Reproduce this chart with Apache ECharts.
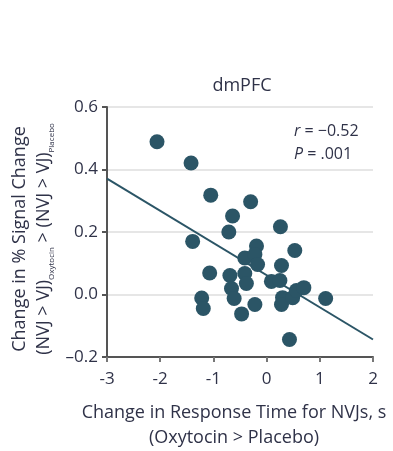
<!DOCTYPE html>
<html>
<head>
<meta charset="utf-8">
<script src="https://cdn.jsdelivr.net/npm/echarts@6/dist/echarts.min.js"></script>
<style>
  html, body { margin: 0; padding: 0; background: #fff; }
  #chart { width: 393px; height: 451px; }
</style>
</head>
<body>
<div id="chart"></div>
<script>
// response time change (s) and signal change
var rtChange = [-2.06, -1.42, -1.05, -0.30, -0.64, -0.71, -1.39, 0.26, -0.19, 0.53,
                -0.41, -0.22, -0.17, 0.28, -1.07, -0.69, -0.41, -0.38, 0.09, 0.25,
                -0.66, -0.61, -1.22, -1.19, -0.22, -0.47, 0.30, 0.28, 0.49, 0.56,
                0.70, 1.11, 0.43];
var signalChange = [0.489, 0.421, 0.318, 0.297, 0.251, 0.200, 0.170, 0.217, 0.155, 0.141,
                    0.117, 0.128, 0.096, 0.093, 0.069, 0.061, 0.067, 0.035, 0.042, 0.045,
                    0.019, -0.013, -0.011, -0.045, -0.032, -0.062, -0.010, -0.032, -0.010, 0.013,
                    0.022, -0.013, -0.144];
// fit line end points
var fitX = [-3, 2];
var fitY = [0.371, -0.144];
var yTicks = [-0.2, 0, 0.2, 0.4, 0.6];
var xTicks = [-3, -2, -1, 0, 1, 2];

var FONT = "'Open Sans', sans-serif";
var ink = '#2f3248';
var teal = '#2b5566';

var pts = rtChange.map(function (x, i) { return [x, signalChange[i]]; });
var fit = fitX.map(function (x, i) { return [x, fitY[i]]; });

var chart = echarts.init(document.getElementById('chart'));
chart.setOption({
  animation: false,
  title: {
    text: 'dmPFC',
    left: 237, top: 72, textAlign: 'center',
    textStyle: { fontFamily: FONT, fontSize: 18, fontWeight: 'normal', color: ink }
  },
  grid: { left: 107, right: 20, top: 107, bottom: 94, outerBoundsMode: 'none', containLabel: false },
  xAxis: {
    type: 'value', min: -3, max: 2, interval: 1,
    name: 'Change in Response Time for NVJs, s\n(Oxytocin > Placebo)',
    nameLocation: 'middle', nameGap: 43, nameMoveOverlap: false,
    nameTextStyle: { fontFamily: FONT, fontSize: 18, color: ink, lineHeight: 25, padding: [0, 12, 0, 0] },
    axisLine: { onZero: false, lineStyle: { color: '#555', width: 2 } },
    axisTick: { inside: false, length: 5, lineStyle: { color: '#777', width: 2 } },
    axisLabel: {
      fontFamily: FONT, fontSize: 17, color: ink, margin: 14,
      formatter: function (v) { return xTicks.indexOf(v) >= 0 ? String(v) : ''; }
    },
    splitLine: { show: false }
  },
  yAxis: {
    type: 'value', min: -0.2, max: 0.6, interval: 0.2,
    name: '{a|Change in % Signal Change}\n{a|(NVJ > VJ)}{s|Oxytocin}{a| > (NVJ > VJ)}{s|Placebo}',
    nameLocation: 'middle', nameRotate: 90, nameGap: 51, nameMoveOverlap: false,
    nameTextStyle: {
      fontFamily: FONT, color: ink, lineHeight: 24, padding: [0, 14, 0, 0],
      rich: {
        a: { fontFamily: FONT, fontSize: 18, color: ink, lineHeight: 24 },
        s: { fontFamily: FONT, fontSize: 8, color: ink, lineHeight: 24, verticalAlign: 'bottom', padding: [10, 0, 0, 0] }
      }
    },
    axisLine: { show: true, onZero: false, lineStyle: { color: '#555', width: 2 } },
    axisTick: { show: true, inside: false, length: 5, lineStyle: { color: '#555', width: 2 } },
    axisLabel: {
      fontFamily: FONT, fontSize: 17, color: ink, margin: 9,
      formatter: function (v) {
        var r = Math.round(v * 10) / 10;
        return yTicks.indexOf(r) >= 0 ? r.toFixed(1).replace('-', '\u2013') : '';
      }
    },
    splitLine: { show: true, lineStyle: { color: '#e6e6e6', width: 2 } }
  },
  graphic: [{
    type: 'text', left: 294, top: 120,
    style: {
      text: '{i|r} = \u22120.52\n{i|P} = .001',
      font: '16px ' + FONT, fill: ink, lineHeight: 23, align: 'left',
      rich: { i: { fontStyle: 'italic', fontFamily: FONT, fontSize: 16, fill: ink } }
    }
  }],
  series: [
    {
      type: 'line', data: fit, symbol: 'none', silent: true,
      lineStyle: { color: teal, width: 2 }, z: 2
    },
    {
      type: 'scatter', data: pts, symbolSize: 15,
      itemStyle: { color: teal, opacity: 1 }, z: 3
    }
  ]
});
</script>
</body>
</html>
